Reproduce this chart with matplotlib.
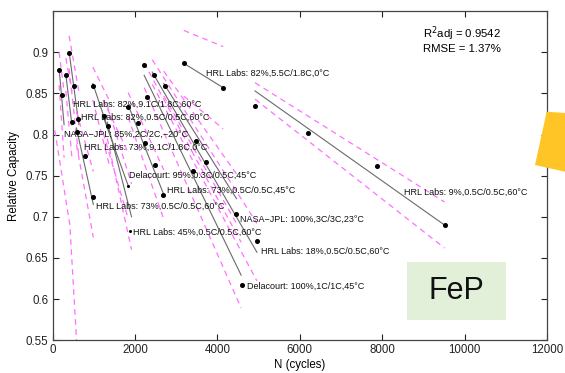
import matplotlib
matplotlib.use("Agg")
import matplotlib.pyplot as plt
from matplotlib.patches import Polygon, Rectangle

plt.rcParams["font.family"] = ["Liberation Sans", "DejaVu Sans"]

# measured cells (black dots)
pt_n = [160, 218, 323, 403, 468, 510, 590, 622, 784, 971, 978, 1238, 1350,
        1835, 2063, 2224, 2248, 2289, 2466, 2476, 2685, 2726, 3187, 3413,
        3471, 3714, 4141, 4449, 4587, 4903, 4966, 6204, 7871, 9515]
pt_cap = [0.878, 0.848, 0.872, 0.8995, 0.815, 0.859, 0.803, 0.819, 0.774,
          0.7236, 0.859, 0.822, 0.810, 0.834, 0.814, 0.885, 0.790, 0.846,
          0.872, 0.7625, 0.727, 0.859, 0.8866, 0.7556, 0.792, 0.767, 0.857,
          0.704, 0.617, 0.835, 0.670, 0.802, 0.762, 0.690]

# tiny end marks
tick_n = [1820, 1876]
tick_cap = [0.738, 0.683]

# model fit per data set: start / end
fit_n0 = [160, 323, 403, 978, 580, 1230, 1330, 1835, 2224, 2420, 2700, 3187, 4915]
fit_c0 = [0.880, 0.873, 0.900, 0.862, 0.808, 0.822, 0.815, 0.836, 0.872, 0.876, 0.862, 0.8866, 0.853]
fit_n1 = [280, 470, 640, 1393, 990, 1835, 1917, 2700, 4578, 4960, 4466, 4141, 9515]
fit_c1 = [0.812, 0.812, 0.812, 0.800, 0.715, 0.738, 0.700, 0.727, 0.629, 0.657, 0.722, 0.857, 0.690]
# half width of the prediction band at start / end
band_w0 = [0.02, 0.02, 0.02, 0.02, 0.02, 0.02, 0.02, 0.015, 0.015, 0.015, 0.015, 0.04, 0.01]
band_w1 = [0.04, 0.04, 0.04, 0.04, 0.04, 0.04, 0.04, 0.03, 0.04, 0.035, 0.03, 0.05, 0.028]

# long lower band on the left
edge_n = [56, 420, 583]
edge_cap = [0.805, 0.69, 0.55]

labels = ["HRL Labs: 82%,9.1C/1.8C,60°C", "HRL Labs: 82%,0.5C/0.5C,60°C",
          "NASA\u2212JPL: 85%,2C/2C,\u221220°C", "HRL Labs: 73%,9.1C/1.8C,0°C",
          "Delacourt: 95%,0.3C/0.5C,45°C", "HRL Labs: 73%,0.5C/0.5C,45°C",
          "HRL Labs: 73%,0.5C/0.5C,60°C", "HRL Labs: 45%,0.5C/0.5C,60°C",
          "NASA\u2212JPL: 100%,3C/3C,23°C", "HRL Labs: 18%,0.5C/0.5C,60°C",
          "Delacourt: 100%,1C/1C,45°C", "HRL Labs: 9%,0.5C/0.5C,60°C",
          "HRL Labs: 82%,5.5C/1.8C,0°C"]
label_n = [493, 686, 277, 760, 1852, 2790, 1050, 1957, 4546, 5049, 4709, 8527, 3713]
label_cap = [0.837, 0.821, 0.800, 0.785, 0.750, 0.7325, 0.713, 0.681, 0.697,
             0.658, 0.616, 0.7297, 0.875]

pink = "#ff70ff"

fig = plt.figure(figsize=(5.65, 3.73), dpi=100)
ax = fig.add_axes([0.093, 0.088, 0.875, 0.882])

for n0, c0, n1, c1, w0, w1 in zip(fit_n0, fit_c0, fit_n1, fit_c1, band_w0, band_w1):
    ax.plot([n0, n1], [c0 + w0, c1 + w1], color=pink, lw=0.9, dashes=(4.5, 3.5))
    ax.plot([n0, n1], [c0 - w0, c1 - w1], color=pink, lw=0.9, dashes=(4.5, 3.5))
    ax.plot([n0, n1], [c0, c1], color="#6a6a6a", lw=0.8)

ax.plot(edge_n, edge_cap, color=pink, lw=0.9, dashes=(4.5, 3.5))

ax.plot(pt_n, pt_cap, "o", color="black", ms=2.6, zorder=4)
ax.plot(tick_n, tick_cap, "o", color="black", ms=1.2, zorder=4)

for t, x, y in zip(labels, label_n, label_cap):
    ax.text(x, y, t, fontsize=6.5, va="center", ha="left", color="#111111")

ax.text(0.749, 0.932, "R$^2$adj = 0.9542", transform=ax.transAxes,
        fontsize=8.2, va="center")
ax.text(0.749, 0.884, "RMSE = 1.37%", transform=ax.transAxes,
        fontsize=8.2, va="center")

ax.set_xlim(0, 12000)
ax.set_ylim(0.55, 0.95)
ax.set_xticks(range(0, 12001, 2000))
ax.set_yticks([0.55, 0.6, 0.65, 0.7, 0.75, 0.8, 0.85, 0.9])
ax.set_yticklabels(["0.55", "0.6", "0.65", "0.7", "0.75", "0.8", "0.85", "0.9"])
ax.tick_params(direction="in", top=True, right=True, length=4, width=0.8,
               labelsize=8.3, colors="#222222", pad=3)
for s in ax.spines.values():
    s.set_color("#444444")
    s.set_linewidth(0.9)
ax.set_xlabel("N (cycles)", fontsize=8.3, labelpad=2)
ax.set_ylabel("Relative Capacity", fontsize=8.3, labelpad=4)

# slide decorations
W, H = 565.0, 373.0
box = Rectangle((407 / W, 1 - 320 / H), 99 / W, 58 / H, transform=fig.transFigure,
                facecolor="#e2efd9", edgecolor="none", zorder=5)
fig.patches.append(box)
fig.text(456.5 / W, 1 - 291 / H, "FeP", fontsize=22, ha="center", va="center",
         color="#111111", zorder=6)
shape = Polygon([(546.7 / W, 1 - 111.7 / H), (565 / W, 1 - 113 / H),
                 (565 / W, 1 - 171.7 / H), (535 / W, 1 - 165 / H)],
                closed=True, transform=fig.transFigure, facecolor="#ffc425",
                edgecolor="none", zorder=5)
fig.patches.append(shape)

fig.savefig("out.png", dpi=100)
